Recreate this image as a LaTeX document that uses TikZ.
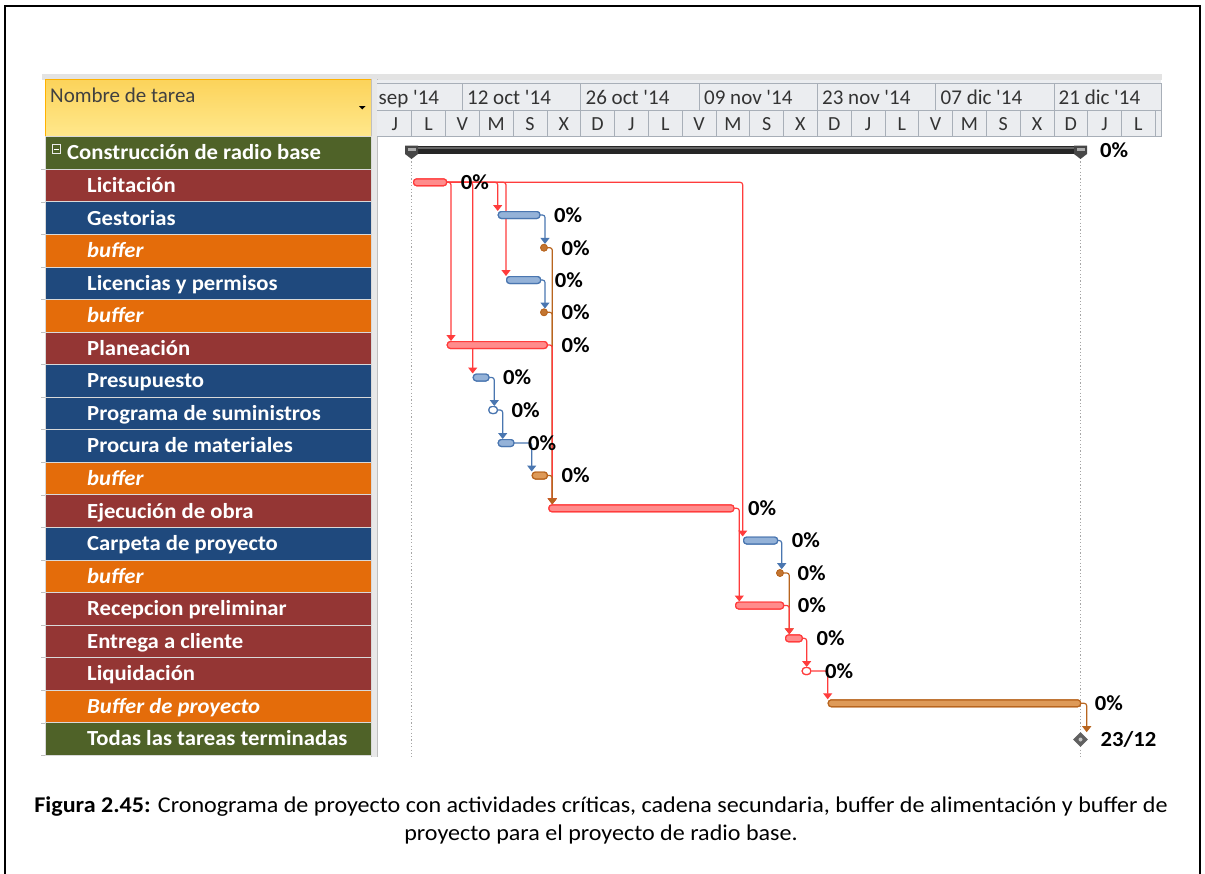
\documentclass[tikz,border=0pt]{standalone}
\usepackage{fontspec}
\setmainfont{Carlito}
\newfontfamily\rowfont{Carlito}[FakeStretch=1.055]
\newfontfamily\capfont{Carlito}[FakeStretch=1.07]
\usetikzlibrary{arrows.meta,calc,shapes.geometric}
\definecolor{tgreen}{HTML}{4F6228}
\definecolor{tred}{HTML}{943634}
\definecolor{tblue}{HTML}{1F497D}
\definecolor{torange}{HTML}{E46C0A}
\definecolor{critline}{HTML}{FF3C3C}
\definecolor{critfill}{HTML}{FF8C8C}
\definecolor{blueline}{HTML}{4A76B0}
\definecolor{bluefill}{HTML}{94B2D8}
\definecolor{brownline}{HTML}{B8651F}
\definecolor{brownfill}{HTML}{DE9A58}
\definecolor{hdrbg}{HTML}{EBEDF0}
\definecolor{hdrline}{HTML}{A8AFB8}
\definecolor{ylwtop}{HTML}{FCD35A}
\definecolor{ylwbot}{HTML}{FFE88C}
\tikzset{
  rowbox/.style={draw=white!70!gray, line width=0.8pt, minimum width=326pt, minimum height=32.56pt, anchor=west, inner sep=0pt},
  rowtext/.style={anchor=base west, inner sep=0pt, text=white, font=\rowfont\fontsize{21.5}{25}\selectfont\bfseries},
  rowtextit/.style={rowtext, font=\rowfont\fontsize{21.5}{25}\selectfont\bfseries\itshape},
  hdrtext/.style={anchor=base west, inner sep=0pt, text=black!80, font=\fontsize{21}{25}\selectfont},
  daytext/.style={anchor=base, inner sep=0pt, text=black!80, font=\fontsize{20}{24}\selectfont},
  barbase/.style={rounded corners=3pt, line width=1.2pt, minimum height=6.8pt, inner sep=0pt, anchor=west},
  critbar/.style={barbase, draw=critline, fill=critfill},
  secbar/.style={barbase, draw=blueline, fill=bluefill},
  bufbar/.style={barbase, draw=brownline, fill=brownfill},
  hollow/.style={barbase, fill=white, minimum width=8.4pt},
  bufdot/.style={circle, draw=brownline, fill=brownline!70!brownfill, line width=0.8pt, minimum size=6.8pt, inner sep=0pt},
  pct/.style={anchor=west, inner sep=0pt, text=black, font=\rowfont\fontsize{21.5}{25}\selectfont\bfseries},
  link/.style={rounded corners=2.5pt, line width=1.2pt, -{Triangle[width=9pt,length=6pt]}},
  clink/.style={link, draw=critline},
  slink/.style={link, draw=blueline},
  blink/.style={link, draw=brownline},
}
\begin{document}
\begin{tikzpicture}[x=1pt,y=-1pt]
\useasboundingbox (0,0) rectangle (1205,873);
% outer frame
\draw[line width=2.2pt] (5,890) -- (5,6) -- (1200,6) -- (1200,890);

% header band
\fill[gray!22] (42,74) rectangle (1162,80);
\shade[top color=ylwtop, bottom color=ylwbot] (45,79) rectangle (371,136.5);
\draw[orange!60!yellow, line width=0.8pt] (45,79) rectangle (371,136.5);
\node[hdrtext, text=black!75] (hname) at (50,102) {Nombre de tarea};
\fill[black] (359,106) -- (365.5,106) -- (362.25,109.5) -- cycle;

% split bar
\fill[gray!18] (371,79) rectangle (377,757);
\draw[gray!50, line width=0.6pt] (371,79) -- (371,757) (377,79) -- (377,757);

% timescale
\fill[hdrbg] (377,80) rectangle (1161,136.5);
\draw[hdrline, line width=0.8pt] (377,83) -- (1161,83) (377,110) -- (1161,110) (377,136.5) -- (1161,136.5) (1161,83) -- (1161,136.5);
\foreach \x in {462.6,580.8,699.1,817.3,935.6,1053.9}
  \draw[hdrline, line width=0.8pt] (\x,83) -- (\x,110);
\node[hdrtext] (w0) at (378.5,104) {sep \textquotesingle 14};
\node[hdrtext] (w1) at (467,104) {12 oct \textquotesingle 14};
\node[hdrtext] (w2) at (585.5,104) {26 oct \textquotesingle 14};
\node[hdrtext] (w3) at (704,104) {09 nov \textquotesingle 14};
\node[hdrtext] (w4) at (822,104) {23 nov \textquotesingle 14};
\node[hdrtext] (w5) at (940.5,104) {07 dic \textquotesingle 14};
\node[hdrtext] (w6) at (1058.5,104) {21 dic \textquotesingle 14};
\foreach \k/\d in {1/J,2/L,3/V,4/M,5/S,6/X,7/D,8/J,9/L,10/V,11/M,12/S,13/X,14/D,15/J,16/L,17/V,18/M,19/S,20/X,21/D,22/J,23/L}{
  \pgfmathsetmacro{\xr}{377.9+\k*33.8}
  \pgfmathsetmacro{\xc}{377.9+(\k-0.5)*33.8}
  \draw[hdrline, line width=0.8pt] (\xr,110) -- (\xr,136.5);
  \node[daytext] (day\k) at (\xc,130) {\d};
}

% task rows
\foreach \i/\c/\s/\t in {
  1/tgreen/rowtext/{Construcción de radio base},
  2/tred/rowtext/{Licitación},
  3/tblue/rowtext/{Gestorias},
  4/torange/rowtextit/{buffer},
  5/tblue/rowtext/{Licencias y permisos},
  6/torange/rowtextit/{buffer},
  7/tred/rowtext/{Planeación},
  8/tblue/rowtext/{Presupuesto},
  9/tblue/rowtext/{Programa de suministros},
  10/tblue/rowtext/{Procura de materiales},
  11/torange/rowtextit/{buffer},
  12/tred/rowtext/{Ejecución de obra},
  13/tblue/rowtext/{Carpeta de proyecto},
  14/torange/rowtextit/{buffer},
  15/tred/rowtext/{Recepcion preliminar},
  16/tred/rowtext/{Entrega a cliente},
  17/tred/rowtext/{Liquidación},
  18/torange/rowtextit/{Buffer de proyecto},
  19/tgreen/rowtext/{Todas las tareas terminadas}}{
  \pgfmathsetmacro{\yc}{153+(\i-1)*32.56}
  \pgfmathsetmacro{\tx}{ifthenelse(\i==1,67,87)}
  \node[rowbox, fill=\c] (row\i) at (45,\yc) {};
  \node[\s] (txt\i) at (\tx,\yc+6.9) {\t};
  \draw[gray!50, line width=0.6pt] (41,\yc+16.28) -- (45,\yc+16.28);
}
% collapse box
\node[draw=white!85!gray, line width=0.8pt, minimum size=8.5pt, inner sep=0pt] (collapse) at (56.5,149) {};
\draw[white, line width=1pt] ([xshift=1.8pt]collapse.west) -- ([xshift=-1.8pt]collapse.east);

% dotted project limits
\draw[gray!70, line width=1pt, dash pattern=on 1.2pt off 2.2pt] (411,158) -- (411,757);
\draw[gray!70, line width=1pt, dash pattern=on 1.2pt off 2.2pt] (1080.5,158) -- (1080.5,757);

% summary bar
\fill[black!85] (405,146) rectangle (1087,154);
\fill[black!60] (405,147.2) rectangle (1087,148.8);
\fill[black!72] (405,145.5) -- (418,145.5) -- (418,154) -- (411.5,159) -- (405,154) -- cycle;
\fill[black!72] (1074,145.5) -- (1087,145.5) -- (1087,154) -- (1080.5,159) -- (1074,154) -- cycle;
\fill[gray!65] (407.5,147.5) rectangle (415.5,151);
\fill[gray!65] (1076.5,147.5) rectangle (1084.5,151);
\node[pct] (p1) at (1100,150) {0\%};

% bars
\node[critbar, minimum width=33pt] (lic) at (413,182.3) {};
\node[secbar, minimum width=41.6pt] (ges) at (497.7,215) {};
\node[bufdot] (b4) at (544,247.7) {};
\node[secbar, minimum width=34pt] (lcp) at (506,280) {};
\node[bufdot] (b6) at (544,312.3) {};
\node[critbar, minimum width=100pt] (pla) at (446.7,345) {};
\node[secbar, minimum width=15.6pt] (pre) at (472.7,377.5) {};
\node[hollow, draw=blueline] (prog) at (488.3,410) {};
\node[secbar, minimum width=15.6pt] (proc) at (497.7,443) {};
\node[bufbar, minimum width=15pt] (b11) at (531.7,475.5) {};
\node[critbar, minimum width=185pt] (eje) at (548.3,508.3) {};
\node[secbar, minimum width=34pt] (car) at (743,540.5) {};
\node[bufdot] (b14) at (780,573) {};
\node[critbar, minimum width=48pt] (rec) at (735,605.5) {};
\node[critbar, minimum width=16.7pt] (ent) at (785,638.3) {};
\node[hollow, draw=critline] (liq) at (801.7,671) {};
\node[bufbar, minimum width=252.3pt] (bp) at (827.7,703.3) {};
\node[diamond, aspect=1, draw=black!60, fill=gray!75!black, line width=0.6pt, minimum size=14pt, inner sep=0pt] (ms) at (1080.5,739.5) {};
\fill[gray!45] (ms.center) circle (2pt);

% drop coordinates
\coordinate (v451) at (451,0);
\coordinate (v472) at (472.7,0);
\coordinate (v497) at (497.7,0);
\coordinate (v506) at (506,0);
\coordinate (v743) at (742.7,0);
\coordinate (v545) at (545,0);
\coordinate (v552) at (552.3,0);
\coordinate (v494) at (494.3,0);
\coordinate (v502) at (502.7,0);
\coordinate (v531) at (531.7,0);
\coordinate (v739) at (739.3,0);
\coordinate (v781) at (781.7,0);
\coordinate (v789) at (789.3,0);
\coordinate (v806) at (806.7,0);
\coordinate (v827) at (827.7,0);
\coordinate (v1087) at (1086.7,0);

% connectors
\draw[clink] (lic.east) -| (pla.north -| v451);
\draw[clink] (lic.east) -| (pre.north -| v472);
\draw[clink] (lic.east) -| (ges.north -| v497);
\draw[clink] (lic.east) -| (lcp.north -| v506);
\draw[clink] (lic.east) -| (car.north -| v743);
\draw[slink] (ges.east) -| (b4.north -| v545);
\draw[slink] (lcp.east) -| (b6.north -| v545);
\draw[blink] (b4.east) -| (eje.north -| v552);
\draw[blink] (b6.east) -| (eje.north -| v552);
\draw[clink] (pla.east) -| (eje.north -| v552);
\draw[slink] (pre.east) -| (prog.north -| v494);
\draw[slink] (prog.east) -| (proc.north -| v502);
\draw[slink] (proc.east) -| (b11.north -| v531);
\draw[blink] (b11.east) -| (eje.north -| v552);
\draw[clink] (eje.east) -| (rec.north -| v739);
\draw[slink] (car.east) -| (b14.north -| v781);
\draw[blink] (b14.east) -| (ent.north -| v789);
\draw[clink] (rec.east) -| (ent.north -| v789);
\draw[clink] (ent.east) -| (liq.north -| v806);
\draw[clink] (liq.east) -| (bp.north -| v827);
\draw[blink] (bp.east) -| (ms.north -| v1087);

% redraw bars on top of connectors
\node[critbar, minimum width=33pt] at (lic.west) {};
\node[secbar, minimum width=41.6pt] at (ges.west) {};
\node[secbar, minimum width=34pt] at (lcp.west) {};
\node[critbar, minimum width=100pt] at (pla.west) {};
\node[secbar, minimum width=15.6pt] at (pre.west) {};
\node[hollow, draw=blueline] at (prog.west) {};
\node[secbar, minimum width=15.6pt] at (proc.west) {};
\node[bufbar, minimum width=15pt] at (b11.west) {};
\node[critbar, minimum width=185pt] at (eje.west) {};
\node[secbar, minimum width=34pt] at (car.west) {};
\node[critbar, minimum width=48pt] at (rec.west) {};
\node[critbar, minimum width=16.7pt] at (ent.west) {};
\node[hollow, draw=critline] at (liq.west) {};
\node[bufbar, minimum width=252.3pt] at (bp.west) {};
\node[bufdot] at (b4.center) {};
\node[bufdot] at (b6.center) {};
\node[bufdot] at (b14.center) {};

% percentage labels
\foreach \n in {lic,ges,b4,lcp,b6,pla,pre,prog,proc,b11,eje,car,b14,rec,ent,liq,bp}
  \node[pct] (pct\n) at ([xshift=13.5pt]\n.east) {0\%};
\node[pct] (date) at ([xshift=12.5pt]ms.east) {23/12};

% caption
\node[align=center, inner sep=0pt, font=\capfont\fontsize{22.5}{28}\selectfont] (caption) at (601,820)
  {\textbf{Figura 2.45:} Cronograma de proyecto con actividades críticas, cadena secundaria, buffer de alimentación y buffer de\\proyecto para el proyecto de radio base.};
\end{tikzpicture}
\end{document}
